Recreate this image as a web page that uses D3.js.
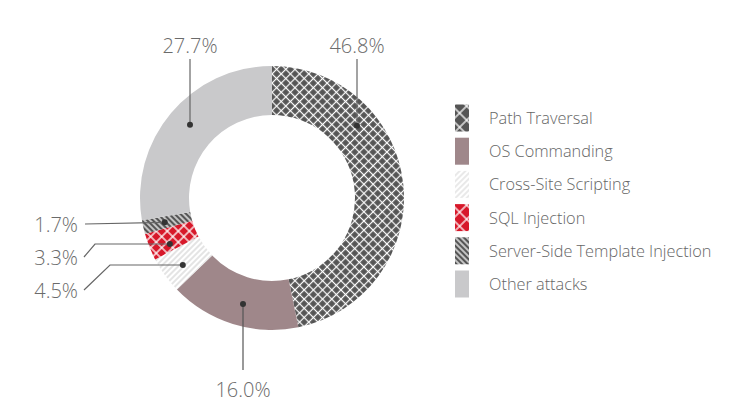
<!DOCTYPE html>
<html><head><meta charset="utf-8">
<script src="https://cdn.jsdelivr.net/npm/d3@7/dist/d3.min.js"></script>
<style>body{margin:0;background:#fff}svg{display:block}text{font-family:"Open Sans",sans-serif;font-weight:300}</style>
</head><body><svg id="c" width="742" height="415"></svg>
<script>
const categories = ["Path Traversal","OS Commanding","Cross-Site Scripting","SQL Injection","Server-Side Template Injection","Other attacks"];
const values = [46.8, 16.0, 4.5, 3.3, 1.7, 27.7];
const valueLabels = ["46.8%","16.0%","4.5%","3.3%","1.7%","27.7%"];

const svg = d3.select("#c");
const W=742,H=415, cx=272, cy=198, rOut=132, rIn=83, rMid=110;
const defs = svg.append("defs");

function crossPat(id, bg, s, sw){
  const p = defs.append("pattern").attr("id",id).attr("patternUnits","userSpaceOnUse")
    .attr("width",s).attr("height",s).attr("patternTransform","rotate(45)");
  p.append("rect").attr("width",s).attr("height",s).attr("fill",bg);
  p.append("rect").attr("x",0).attr("y",s/2-sw/2).attr("width",s).attr("height",sw).attr("fill","#fff");
  p.append("rect").attr("x",s/2-sw/2).attr("y",0).attr("width",sw).attr("height",s).attr("fill","#fff");
}
function stripePat(id, bg, fg, s, sw, ang){
  const p = defs.append("pattern").attr("id",id).attr("patternUnits","userSpaceOnUse")
    .attr("width",s).attr("height",s).attr("patternTransform","rotate("+ang+")");
  p.append("rect").attr("width",s).attr("height",s).attr("fill",bg);
  p.append("rect").attr("x",s/2-sw/2).attr("y",0).attr("width",sw).attr("height",s).attr("fill",fg);
}
crossPat("pt","#555555",6.5,1.2);
crossPat("sql","#d7182a",7.8,1.3);
stripePat("xss","#ffffff","#c4c4c4",4,0.9,45);
stripePat("ssti","#555555","#ffffff",4,1.3,-45);
crossPat("ptL","#555555",10,1.3);
crossPat("sqlL","#d7182a",10,1.3);
stripePat("xssL","#ffffff","#cfcfcf",4,0.9,45);
stripePat("sstiL","#555555","#ffffff",4,1.3,-45);

const fills = ["url(#pt)","#9f878a","url(#xss)","url(#sql)","url(#ssti)","#c9c9cb"];
const legFills = ["url(#ptL)","#9f878a","url(#xssL)","url(#sqlL)","url(#sstiL)","#c9c9cb"];

const pie = d3.pie().sort(null).value(d=>d);
const arcs = pie(values);
const arc = d3.arc().innerRadius(rIn).outerRadius(rOut);
const g = svg.append("g").attr("transform",`translate(${cx},${cy})`);
g.selectAll("path").data(arcs).join("path").attr("d",arc).attr("fill",(d,i)=>fills[i]);

// label layout (index -> placement)
const pt = a => [cx + rMid*Math.sin(a), cy - rMid*Math.cos(a)];
const deg = Math.PI/180;
const layout = [
  {i:0, a:49*deg, type:"top", tx:357},
  {i:5, a:-48.3*deg, type:"top", tx:190},
  {i:1, a:195.3*deg, type:"bottom"},
  {i:4, type:"left", ty:225, ly:224, bend:null},
  {i:3, type:"left", ty:258, ly:257, bend:[95,244]},
  {i:2, type:"left", ty:291, ly:290, bend:[110,265]},
];
const lab = svg.append("g");
layout.forEach(L=>{
  const d = arcs[L.i];
  let a = L.a!==undefined ? L.a : (d.startAngle+d.endAngle)/2;
  let [x,y] = pt(a);
  if(L.type==="top"){
    x = L.tx;
    lab.append("line").attr("x1",x).attr("x2",x).attr("y1",59).attr("y2",y).attr("stroke","#666").attr("stroke-width",1.2);
    lab.append("text").attr("x",x).attr("y",53).attr("text-anchor","middle").attr("font-size",20).attr("fill","#6b6b6b").text(valueLabels[L.i]);
  } else if(L.type==="bottom"){
    x = Math.round(x);
    lab.append("line").attr("x1",x).attr("x2",x).attr("y1",y).attr("y2",370).attr("stroke","#555").attr("stroke-width",1.2);
    lab.append("text").attr("x",x).attr("y",397).attr("text-anchor","middle").attr("font-size",20).attr("fill","#6b6b6b").text(valueLabels[L.i]);
  } else {
    const pts = L.bend ? [[84,L.ly],L.bend,[x,L.bend[1]]] : [[85,L.ly],[x,y]];
    if(L.bend){ y = L.bend[1]; }
    lab.append("path").attr("d",d3.line()(pts)).attr("fill","none").attr("stroke","#666").attr("stroke-width",1.2);
    lab.append("text").attr("x",78).attr("y",L.ty+7).attr("text-anchor","end").attr("font-size",20).attr("fill","#6b6b6b").text(valueLabels[L.i]);
  }
  lab.append("circle").attr("cx",x).attr("cy",y).attr("r",3).attr("fill","#333");
});

// legend
const ly = d3.scalePoint().domain(categories).range([118,284]);
const leg = svg.append("g");
categories.forEach((c,i)=>{
  const y = ly(c);
  leg.append("rect").attr("x",455).attr("y",y-13.5).attr("width",14).attr("height",27).attr("fill",legFills[i]);
  leg.append("text").attr("x",489).attr("y",y+6).attr("font-size",16.3).attr("fill","#666").text(c);
});
</script></body></html>
